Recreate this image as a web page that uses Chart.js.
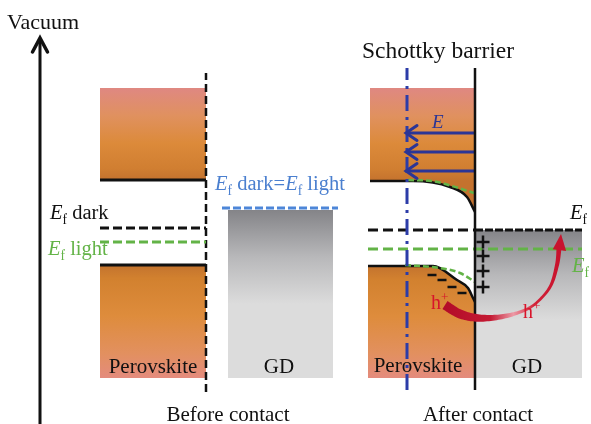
<!DOCTYPE html>
<html>
<head>
<meta charset="utf-8">
<script src="https://cdn.jsdelivr.net/npm/chart.js@4.4.1/dist/chart.umd.min.js"></script>
<style>
  html, body { margin: 0; padding: 0; background: #ffffff; }
  #wrap { width: 591px; height: 424px; }
</style>
</head>
<body>
<div id="wrap"><canvas id="bands"></canvas></div>
<script>
// Energy-band picture of a perovskite / GD junction.
// x = lateral position, y = electron energy (vacuum level up), arbitrary units.

const bandTop = 336;      // upper edge of the drawn conduction-band region
const bandBottom = 46;    // lower edge of the drawn valence-band region

// ---- before contact ----
const beforePvkX = [100, 206];
const beforeCB = [244, 244];
const beforeVB = [159, 159];
const beforeEfDark = [196, 196];
const beforeEfLight = [182, 182];
const beforeGdX = [228, 333];
const beforeGdTop = [214, 214];
const beforeGdEfX = [222, 338];
const beforeGdEf = [216, 216];
const beforeInterfaceX = [206, 206];
const beforeInterfaceY = [32, 351];

// ---- after contact (band bending at the Schottky barrier) ----
const afterCBX = [370, 413, 450, 467, 475];
const afterCB = [243, 243, 237, 227, 212];
const afterCBLightX = [408, 432, 452, 474];
const afterCBLight = [244, 243, 238, 231];
const afterVBX = [368, 433, 457, 468, 473, 475];
const afterVB = [158, 158, 144, 136, 126, 122];
const afterVBLightX = [405, 440, 460, 475];
const afterVBLight = [159, 156, 151, 142];
const afterEfPvkX = [368, 475];
const afterEfGdX = [475, 582];
const afterEf = [194, 194];
const afterEfLightX = [368, 582];
const afterEfLight = [175, 175];
const afterGdX = [475, 582];
const afterGdTop = [194, 194];
const afterInterfaceX = [475, 475];
const afterInterfaceY = [34, 356];
const symmetryX = [407, 407];
const symmetryY = [34, 356];

// built-in field E (arrows point from GD into the perovskite)
const fieldX = [475, 406];
const fieldLevels = [291, 272, 253];

// vacuum energy axis
const vacuumX = [40, 40];
const vacuumY = [0, 386];

// interface charges
const plusX = [483, 483, 483, 483];
const plusY = [182, 168, 153, 137];
const minusX = [432, 442, 452, 462];
const minusY = [149, 144, 137, 131];

// hole transfer path h+ : perovskite -> GD
const holeX = [445, 460, 478, 500, 520, 535, 550, 557, 559];
const holeY = [119, 110, 106, 107, 112, 120, 137, 159, 176];
const holeTip = [561, 190];

// ---------- styles ----------
const FONT = '"Liberation Serif", "Times New Roman", serif';
const GREEN = '#63b347';
const BLUE_TXT = '#4a7fcf';
const BLUE_LINE = '#4d86d8';
const NAVY = '#2b3596';
const RED = '#c8142e';
const holeWidths = [9.5, 9, 7.5, 5, 3.2, 2.6, 3, 4, 5];

const pts = (xs, ys) => xs.map((x, i) => ({ x, y: ys[i] }));

function vGrad(chart, yFrom, yTo, stops, fallback) {
  const { ctx, chartArea, scales } = chart;
  if (!chartArea) return fallback;
  const g = ctx.createLinearGradient(0, scales.y.getPixelForValue(yFrom), 0, scales.y.getPixelForValue(yTo));
  stops.forEach(([o, c]) => g.addColorStop(o, c));
  return g;
}
const upperPvkStops = [[0, '#df8882'], [0.3, '#e0915f'], [0.6, '#dc8a3a'], [0.88, '#d07e31'], [1, '#c4722e']];
const lowerPvkStops = [[0, '#c3732e'], [0.12, '#d2812f'], [0.45, '#de8c3c'], [0.78, '#e2905f'], [1, '#e48b7d']];
const grayStops = [[0, '#848488'], [0.5, '#b8b8ba'], [1, '#dcdcdc']];

const block = (data, fillTo, bg, extra) => Object.assign({
  data, fill: { value: fillTo }, backgroundColor: bg,
  borderColor: '#111', borderWidth: 3, pointRadius: 0, order: 10
}, extra || {});
const line = (data, color, width, dash, extra) => Object.assign({
  data, borderColor: color, borderWidth: width, borderDash: dash || [],
  fill: false, pointRadius: 0, order: 3
}, extra || {});

const datasets = [
  // bands before contact
  block(pts(beforePvkX, beforeCB), bandTop, c => vGrad(c.chart, bandTop, beforeCB[0], upperPvkStops, '#dc8a3a')),
  block(pts(beforePvkX, beforeVB), bandBottom, c => vGrad(c.chart, beforeVB[0], bandBottom, lowerPvkStops, '#dc8a3a')),
  block(pts(beforeGdX, beforeGdTop), bandBottom, c => vGrad(c.chart, beforeGdTop[0], 120, grayStops, '#cccccc'), { borderWidth: 0 }),
  // bands after contact
  block(pts(afterCBX, afterCB), bandTop, c => vGrad(c.chart, bandTop, afterCB[0], upperPvkStops, '#dc8a3a'),
        { cubicInterpolationMode: 'monotone', borderWidth: 2.5 }),
  block(pts(afterVBX, afterVB), bandBottom, c => vGrad(c.chart, afterVB[0], bandBottom, lowerPvkStops, '#dc8a3a'),
        { cubicInterpolationMode: 'monotone', borderWidth: 2.5 }),
  block(pts(afterGdX, afterGdTop), bandBottom, c => vGrad(c.chart, afterGdTop[0], 104, grayStops, '#cccccc'), { borderWidth: 0 }),

  // Fermi levels
  line(pts(beforePvkX, beforeEfDark), '#111', 3, [9, 4]),
  line(pts(beforePvkX, beforeEfLight), GREEN, 3, [9, 4]),
  line(pts(beforeGdEfX, beforeGdEf), BLUE_LINE, 3, [8, 3]),
  line(pts(afterEfPvkX, afterEf), '#111', 3, [10, 5]),
  line(pts(afterEfGdX, afterEf), '#111', 3, [8, 2]),
  line(pts(afterEfLightX, afterEfLight), GREEN, 3, [10, 5]),
  line(pts(afterCBLightX, afterCBLight), GREEN, 2.5, [6, 3], { cubicInterpolationMode: 'monotone' }),
  line(pts(afterVBLightX, afterVBLight), GREEN, 2.5, [6, 3], { cubicInterpolationMode: 'monotone' }),

  // interfaces and axes
  line(pts(beforeInterfaceX, beforeInterfaceY), '#111', 2.5, [8, 4]),
  line(pts(symmetryX, symmetryY), '#2c3ca8', 3, [16, 6, 3, 6], { order: 2 }),
  line(pts(afterInterfaceX, afterInterfaceY), '#111', 2.5, [], { order: 1 }),
  line(pts(vacuumX, vacuumY), '#111', 3),

  // built-in field
  ...fieldLevels.map(lv => line(pts(fieldX, [lv, lv]), NAVY, 3, [], { order: 1 })),

  // interface charges
  { data: pts(plusX, plusY), showLine: false, pointStyle: 'cross', pointRadius: 6.5,
    pointBorderColor: '#111', pointBorderWidth: 2.5, order: 0 },
  { data: pts(minusX, minusY), showLine: false, pointStyle: 'line', pointRadius: 4.5,
    pointBorderColor: '#111', pointBorderWidth: 2.5, order: 0 }
];

// text labels: runs of [text, kind] where kind = '' | 'i' (italic) | 's' (subscript) | 'p' (superscript)
const labels = [
  { runs: [['Vacuum', '']], x: 7, y: 395, size: 22, color: '#111' },
  { runs: [['Schottky barrier', '']], x: 362, y: 366, size: 23.5, color: '#111' },
  { runs: [['E', 'i'], ['f', 's'], [' dark', '']], x: 50, y: 205, size: 20.5, color: '#111' },
  { runs: [['E', 'i'], ['f', 's'], [' light', '']], x: 48, y: 169, size: 20.5, color: GREEN },
  { runs: [['E', 'i'], ['f', 's'], [' dark=', ''], ['E', 'i'], ['f', 's'], [' light', '']], x: 215, y: 234, size: 20.5, color: BLUE_TXT },
  { runs: [['E', 'i']], x: 432, y: 296, size: 19, color: NAVY },
  { runs: [['E', 'i'], ['f', 's']], x: 570, y: 205, size: 20.5, color: '#111' },
  { runs: [['E', 'i'], ['f', 's']], x: 572, y: 152, size: 20.5, color: GREEN },
  { runs: [['h', ''], ['+', 'p']], x: 431, y: 115, size: 20, color: '#d8142a' },
  { runs: [['h', ''], ['+', 'p']], x: 523, y: 106, size: 20, color: '#d8142a' },
  { runs: [['Perovskite', '']], x: 153, y: 51, size: 21, color: '#111', align: 'center' },
  { runs: [['GD', '']], x: 279, y: 51, size: 21, color: '#111', align: 'center' },
  { runs: [['Perovskite', '']], x: 418, y: 52, size: 21, color: '#111', align: 'center' },
  { runs: [['GD', '']], x: 527, y: 51, size: 21, color: '#111', align: 'center' },
  { runs: [['Before contact', '']], x: 228, y: 3, size: 21, color: '#111', align: 'center' },
  { runs: [['After contact', '']], x: 478, y: 3, size: 21, color: '#111', align: 'center' }
];

function runFont(kind, size) {
  const s = (kind === 's' || kind === 'p') ? size * 0.66 : size;
  return (kind === 'i' ? 'italic ' : '') + s + 'px ' + FONT;
}

function drawLabel(ctx, lab, px, py) {
  let total = 0;
  lab.runs.forEach(([t, k]) => { ctx.font = runFont(k, lab.size); total += ctx.measureText(t).width; });
  let x = lab.align === 'center' ? px - total / 2 : px;
  ctx.fillStyle = lab.color;
  ctx.textBaseline = 'alphabetic';
  ctx.textAlign = 'left';
  lab.runs.forEach(([t, k]) => {
    ctx.font = runFont(k, lab.size);
    const dy = k === 's' ? lab.size * 0.22 : (k === 'p' ? -lab.size * 0.38 : 0);
    ctx.fillText(t, x, py + dy);
    x += ctx.measureText(t).width;
  });
}

// open arrowhead: tip at `tip`, arms trailing back against direction (dirX, dirY)
function chevron(ctx, tip, dirX, dirY, len, half, width, color) {
  const nx = -dirY, ny = dirX;
  ctx.beginPath();
  ctx.moveTo(tip.x - dirX * len + nx * half, tip.y - dirY * len + ny * half);
  ctx.lineTo(tip.x, tip.y);
  ctx.lineTo(tip.x - dirX * len - nx * half, tip.y - dirY * len - ny * half);
  ctx.strokeStyle = color;
  ctx.lineWidth = width;
  ctx.lineCap = 'round';
  ctx.lineJoin = 'miter';
  ctx.stroke();
}

function catmull(p0, p1, p2, p3, t) {
  const t2 = t * t, t3 = t2 * t;
  return 0.5 * (2 * p1 + (-p0 + p2) * t + (2 * p0 - 5 * p1 + 4 * p2 - p3) * t2 + (-p0 + 3 * p1 - 3 * p2 + p3) * t3);
}

const decorations = {
  id: 'decorations',
  afterDatasetsDraw(chart) {
    const { ctx, scales: { x: sx, y: sy } } = chart;
    const P = (x, y) => ({ x: sx.getPixelForValue(x), y: sy.getPixelForValue(y) });
    ctx.save();

    // arrowheads of the field lines and the vacuum axis
    fieldLevels.forEach(lv => chevron(ctx, P(fieldX[1], lv), -1, 0, 11, 7.5, 3, NAVY));
    chevron(ctx, P(vacuumX[1], vacuumY[1]), 0, -1, 14, 7.5, 3.5, '#111');

    // tapered hole-transfer arrow
    const c = holeX.map((x, i) => P(x, holeY[i]));
    const samples = [];
    for (let i = 0; i < c.length - 1; i++) {
      const a = c[Math.max(i - 1, 0)], b = c[i], d = c[i + 1], e = c[Math.min(i + 2, c.length - 1)];
      for (let s = 0; s < 12; s++) {
        const t = s / 12;
        samples.push({ x: catmull(a.x, b.x, d.x, e.x, t), y: catmull(a.y, b.y, d.y, e.y, t),
                       w: holeWidths[i] + (holeWidths[i + 1] - holeWidths[i]) * t });
      }
    }
    samples.push({ x: c[c.length - 1].x, y: c[c.length - 1].y, w: holeWidths[holeWidths.length - 1] });
    const left = [], right = [];
    samples.forEach((p, k) => {
      const q0 = samples[Math.max(k - 1, 0)], q1 = samples[Math.min(k + 1, samples.length - 1)];
      let tx = q1.x - q0.x, ty = q1.y - q0.y;
      const L = Math.hypot(tx, ty) || 1; tx /= L; ty /= L;
      left.push({ x: p.x - ty * p.w / 2, y: p.y + tx * p.w / 2 });
      right.push({ x: p.x + ty * p.w / 2, y: p.y - tx * p.w / 2 });
    });
    const g = ctx.createLinearGradient(c[0].x, 0, c[c.length - 1].x, 0);
    g.addColorStop(0, '#b30c28'); g.addColorStop(0.4, '#c41a33');
    g.addColorStop(0.6, '#ec9aa6'); g.addColorStop(0.78, '#d2253b'); g.addColorStop(1, '#c8112c');
    ctx.beginPath();
    left.forEach((p, k) => k ? ctx.lineTo(p.x, p.y) : ctx.moveTo(p.x, p.y));
    for (let k = right.length - 1; k >= 0; k--) ctx.lineTo(right[k].x, right[k].y);
    ctx.closePath();
    ctx.fillStyle = g;
    ctx.fill();
    // arrow head
    const last = c[c.length - 1], tip = P(holeTip[0], holeTip[1]);
    let hx = tip.x - last.x, hy = tip.y - last.y;
    const HL = Math.hypot(hx, hy); hx /= HL; hy /= HL;
    ctx.beginPath();
    ctx.moveTo(tip.x, tip.y);
    ctx.lineTo(last.x - hy * 7.5 - hx * 2, last.y + hx * 7.5 - hy * 2);
    ctx.lineTo(last.x + hy * 6 - hx * 2, last.y - hx * 6 - hy * 2);
    ctx.closePath();
    ctx.fillStyle = RED;
    ctx.fill();

    // text
    labels.forEach(lab => { const p = P(lab.x, lab.y); drawLabel(ctx, lab, p.x, p.y); });
    ctx.restore();
  }
};

new Chart(document.getElementById('bands'), {
  type: 'line',
  data: { datasets },
  options: {
    responsive: true,
    maintainAspectRatio: false,
    animation: false,
    events: [],
    layout: { padding: 0, autoPadding: false },
    elements: { line: { tension: 0 } },
    scales: {
      x: { type: 'linear', min: 0, max: 591, display: false },
      y: { type: 'linear', min: 0, max: 424, display: false }
    },
    plugins: { legend: { display: false }, tooltip: { enabled: false } }
  },
  plugins: [decorations]
});
</script>
</body>
</html>
